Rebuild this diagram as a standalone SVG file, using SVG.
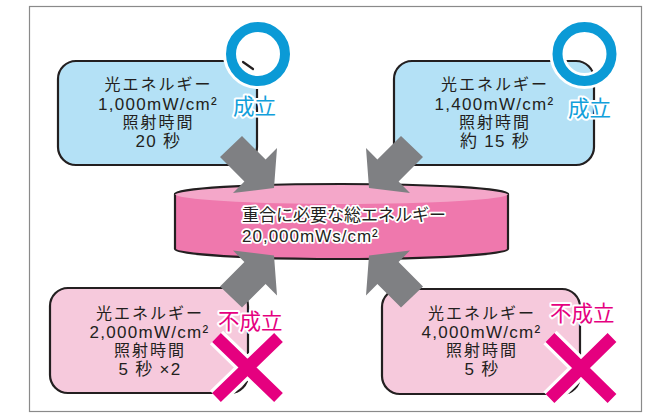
<svg xmlns="http://www.w3.org/2000/svg" width="653" height="414" viewBox="0 0 653 414">
<defs>
<style>
.frame{fill:none;stroke:#8a8a8a;stroke-width:1.2}
.box{stroke:#231f20;stroke-width:2.2}
.blue{fill:#b4e1f6}
.pink{fill:#f6c9dc}
.bt{font-family:"Liberation Sans","Noto Sans CJK JP",sans-serif;font-size:16px;letter-spacing:2px;fill:#231f20;text-anchor:middle}
.bl{font-family:"Liberation Sans","Noto Sans CJK JP",sans-serif;font-size:17px;letter-spacing:1.3px;fill:#231f20;text-anchor:middle}
.ct{font-family:"Liberation Sans","Noto Sans CJK JP",sans-serif;font-size:17px;fill:#231f20;stroke:#fff;stroke-width:3.5px;stroke-linejoin:round;paint-order:stroke}
.arrow{fill:#7f8083}
.ok{font-family:"Noto Sans CJK JP",sans-serif;font-size:21.5px;fill:#12a0db;stroke:#fff;stroke-width:4px;stroke-linejoin:round;paint-order:stroke}
.ng{font-family:"Noto Sans CJK JP",sans-serif;font-size:21.5px;fill:#e5007f;stroke:#fff;stroke-width:4px;stroke-linejoin:round;paint-order:stroke}
.ringh{fill:none;stroke:#fff;stroke-width:16}
.ring{fill:none;stroke:#0b9ad6;stroke-width:10}
.xh{stroke:#fff;stroke-width:19}
.x{stroke:#e5007f;stroke-width:12.5}
</style>
<polygon id="arr" points="220,157 242,136 265.6,159.6 277,148 274,188 233,193 244.4,181.4"/>
</defs>
<rect width="653" height="414" fill="#fff"/>
<rect class="frame" x="29.5" y="6.5" width="612" height="405"/>

<g id="box-tl">
<rect class="box blue" x="58" y="61" width="199" height="104" rx="18"/>
<text class="bt" x="158.5" y="90">光エネルギー</text>
<text class="bl" x="158" y="110">1,000mW/cm²</text>
<text class="bt" x="158.5" y="128">照射時間</text>
<text class="bl" x="158.5" y="147">20 秒</text>
</g>

<g id="box-tr">
<rect class="box blue" x="394" y="61" width="200" height="104" rx="18"/>
<text class="bt" x="495" y="90">光エネルギー</text>
<text class="bl" x="494.5" y="110">1,400mW/cm²</text>
<text class="bt" x="495" y="128">照射時間</text>
<text class="bl" x="495" y="147">約 15 秒</text>
</g>

<g id="box-bl">
<rect class="box pink" x="50" y="288" width="198" height="105" rx="18"/>
<text class="bt" x="150" y="319">光エネルギー</text>
<text class="bl" x="149.5" y="338">2,000mW/cm²</text>
<text class="bt" x="150" y="356">照射時間</text>
<text class="bl" x="150" y="375">5 秒 ×2</text>
</g>

<g id="box-br">
<rect class="box pink" x="382" y="289" width="198" height="105" rx="18"/>
<text class="bt" x="482" y="319">光エネルギー</text>
<text class="bl" x="481.5" y="338">4,000mW/cm²</text>
<text class="bt" x="482" y="356">照射時間</text>
<text class="bl" x="482" y="375">5 秒</text>
</g>

<g id="cylinder">
<path d="M175,194 L175,249 A166.5,10 0 0 0 508,249 L508,194 Z" fill="#ef78ad" stroke="#231f20" stroke-width="2.2" stroke-linejoin="round"/>
<ellipse cx="341.5" cy="194" rx="166.5" ry="10" fill="#f4a7c9"/>
<path d="M175,194 A166.5,10 0 0 1 508,194" fill="none" stroke="#231f20" stroke-width="2.2"/>
<text class="ct" x="242" y="221">重合に必要な総エネルギー</text>
<text class="ct" x="242" y="242" font-size="18" letter-spacing="1">20,000mWs/cm²</text>
</g>

<g id="connectors" class="arrow">
<use href="#arr"/>
<use href="#arr" transform="translate(643,0) scale(-1,1)"/>
<use href="#arr" transform="translate(0,443.5) scale(1,-1)"/>
<use href="#arr" transform="translate(643,443.5) scale(-1,-1)"/>
</g>

<g id="mark-tl">
<circle class="ringh" cx="258" cy="54" r="27"/>
<circle cx="258" cy="54" r="22" fill="#fff"/>
<path d="M243,62 L253,69" stroke="#231f20" stroke-width="2.2" stroke-linecap="round"/>
<circle class="ring" cx="258" cy="54" r="27"/>
<text class="ok" x="233" y="114">成立</text>
</g>

<g id="mark-tr">
<circle class="ringh" cx="584.5" cy="54" r="27"/>
<circle class="ring" cx="584.5" cy="54" r="27"/>
<text class="ok" x="568" y="116">成立</text>
</g>

<g id="mark-bl">
<path class="xh" d="M216.5,337.5 L278.5,397.5 M278.5,337.5 L216.5,397.5"/>
<path class="x" d="M216.5,337.5 L278.5,397.5 M278.5,337.5 L216.5,397.5"/>
<text class="ng" x="218" y="329">不成立</text>
</g>

<g id="mark-br">
<path class="xh" d="M550,337.5 L612,398.5 M612,337.5 L550,398.5"/>
<path class="x" d="M550,337.5 L612,398.5 M612,337.5 L550,398.5"/>
<text class="ng" x="550" y="321">不成立</text>
</g>
</svg>
